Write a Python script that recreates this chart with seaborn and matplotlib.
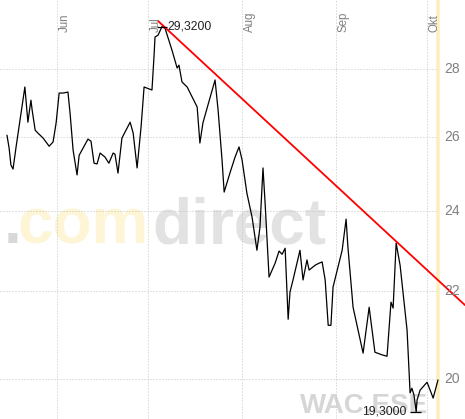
import numpy as np
import pandas as pd
import matplotlib
matplotlib.use("Agg")
import matplotlib.pyplot as plt
import seaborn as sns

# ---- data ----
# x: days relative to 1 June, y: share price
days = [-16.5, -15.8, -15.2, -14.5, -13.5, -10.6, -9.6, -9.2, -8.6, -8.2,
        -7.2, -6.3, -4.6, -2.6, -1.3, -0.3, 0.7, 2.0, 3.6, 4.3,
        5.3, 6.6, 7.3, 8.6, 10.2, 11.2, 12.2, 13.2, 14.2, 15.8,
        17.1, 18.5, 19.1, 20.1, 21.4, 24.1, 25.1, 26.4, 27.7, 28.7,
        31.3, 32.0, 32.3, 33.3, 34.6, 35.6, 37.9, 39.6, 40.2, 41.2,
        42.9, 46.2, 47.1, 48.1, 50.4, 52.1, 53.1, 54.4, 55.1, 57.0,
        58.7, 60.0, 61.0, 62.6, 64.3, 65.9, 66.9, 67.9, 68.6, 69.9,
        71.9, 73.2, 74.2, 75.2, 76.2, 76.8, 77.8, 80.1, 81.1, 82.4,
        83.1, 85.1, 86.4, 87.4, 88.4, 89.4, 90.3, 91.0, 94.0, 95.3,
        95.9, 97.6, 100.9, 102.9, 104.8, 107.2, 108.8, 110.1, 110.8, 111.8,
        113.1, 115.4, 116.4, 117.0, 117.7, 118.4, 118.7, 119.7, 122.0, 124.0,
        125.6]
prices = [26.06, 25.70, 25.23, 25.12, 25.73, 27.46, 26.43, 26.69, 27.07, 26.78,
          26.20, 26.12, 25.98, 25.75, 25.87, 26.41, 27.28, 27.28, 27.31, 26.69,
          25.64, 24.96, 25.50, 25.70, 25.95, 25.89, 25.28, 25.26, 25.56, 25.45,
          25.28, 25.56, 25.53, 25.01, 25.98, 26.43, 26.12, 25.15, 26.29, 27.46,
          27.37, 28.43, 28.99, 29.05, 29.32, 29.27, 28.58, 28.03, 28.12, 27.61,
          27.46, 26.87, 25.84, 26.41, 27.13, 27.67, 26.78, 25.37, 24.50, 25.01,
          25.45, 25.73, 25.37, 24.47, 23.84, 23.00, 23.58, 25.15, 24.21, 22.34,
          22.68, 22.98, 22.90, 23.05, 21.34, 21.98, 22.27, 23.00, 22.27, 22.76,
          22.51, 22.63, 22.68, 22.71, 22.27, 21.20, 21.20, 22.10, 23.00, 23.79,
          23.08, 21.62, 20.57, 21.62, 20.59, 20.53, 20.50, 21.74, 21.60, 23.18,
          22.63, 21.09, 19.70, 19.80, 19.65, 19.30, 19.55, 19.76, 19.93, 19.59,
          19.98]

trend_days = [33.3, 134.5]
trend_values = [29.50, 21.67]

month_days = [0, 30, 61, 92, 122]
month_labels = ["Jun", "Jul", "Aug", "Sep", "Okt"]
y_ticks = [20, 22, 24, 26, 28]
y_tick_labels = ["20", "22", "24", "26", "28"]

high_day, high_value, high_label = 34.6, 29.32, "29,3200"
low_day, low_value, low_label = 118.4, 19.30, "19,3000"
last_day = 125.6

# ---- figure ----
sns.set_style("white")
plt.rcParams["font.family"] = ["Liberation Sans", "DejaVu Sans"]

W, H = 465, 419
fig = plt.figure(figsize=(W / 100, H / 100), dpi=100)
ax = fig.add_axes([0, 0, 1, 1])
ax.set_yscale("log")
ax.set_xlim(-18.8, 134.5)
ax.set_ylim(19.15, 30.18)
ax.set_axis_off()

def px_x(px):
    return px / W

def px_y(py):
    return 1 - py / H

grid_kw = dict(colors="#c4c4c4", linewidth=0.72, linestyles=(0, (1, 2)), zorder=1)
ax.hlines(y_ticks, -18.8, last_day, **grid_kw)
ax.vlines(month_days, 19.15, 30.18, **grid_kw)

# watermark
ax.text(px_x(4), px_y(243), ".", transform=ax.transAxes, fontsize=46,
        fontweight="bold", color="#d8d8d8", ha="left", va="baseline", zorder=0)
ax.text(px_x(17), px_y(243), "com", transform=ax.transAxes, fontsize=46,
        fontweight="bold", color="#fdf5d6", ha="left", va="baseline", zorder=0)
ax.text(px_x(152), px_y(243), "direct", transform=ax.transAxes, fontsize=46,
        fontweight="bold", color="#e2e2e2", ha="left", va="baseline", zorder=0)
ax.text(px_x(300), px_y(413), "WAC.ESE", transform=ax.transAxes, fontsize=20,
        fontweight="bold", color="#d6d6d6", ha="left", va="baseline", zorder=0)

# last-day marker
ax.axvline(last_day, color="#fdefbd", linewidth=2.6, zorder=1)

df = pd.DataFrame({"day": days, "price": prices})
sns.lineplot(data=df, x="day", y="price", ax=ax, color="black", linewidth=0.9,
             estimator=None, sort=True, zorder=3)

tdf = pd.DataFrame({"day": trend_days, "price": trend_values})
sns.lineplot(data=tdf, x="day", y="price", ax=ax, color="#ff0000", linewidth=1.3,
             estimator=None, zorder=4)

# month labels
for d, lab in zip(month_days, month_labels):
    ax.text(d + 0.6, 30.18 * np.exp(-32 / 921.0), lab, rotation=90, ha="left",
            va="bottom", fontsize=8.3, color="#808080", zorder=5)

# y labels
for v, lab in zip(y_ticks, y_tick_labels):
    ax.text(px_x(444), v, lab, transform=ax.get_yaxis_transform(), ha="left",
            va="center", fontsize=10, color="#808080", zorder=5)

# high / low markers
ax.hlines([high_value], high_day - 1.6, high_day + 1.6, colors="black", linewidth=0.9, zorder=5)
ax.text(high_day + 1.9, high_value, high_label, ha="left", va="center",
        fontsize=8.7, color="#222222", zorder=5)
ax.hlines([low_value], low_day - 2.0, low_day + 1.6, colors="black", linewidth=0.9, zorder=5)
ax.text(low_day - 3.3, low_value, low_label, ha="right", va="center",
        fontsize=8.7, color="#222222", zorder=5)

fig.savefig("out.png", dpi=100)
